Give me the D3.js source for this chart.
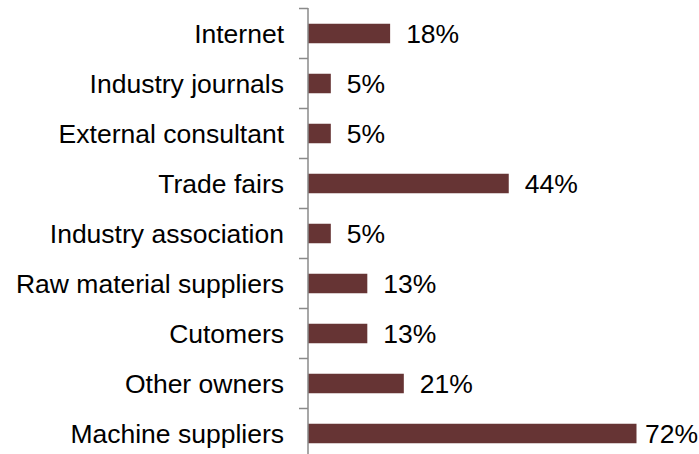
<!DOCTYPE html>
<html>
<head>
<meta charset="utf-8">
<script src="https://cdn.jsdelivr.net/npm/d3@7"></script>
<style>
  html, body { margin: 0; padding: 0; background: #fff; }
  svg { display: block; }
  text { font-family: "Liberation Sans", Arial, sans-serif; fill: #000; }
</style>
</head>
<body>
<div id="chart"></div>
<script>
// Information sources (share of respondents, %)
const categories = [
  "Internet",
  "Industry journals",
  "External consultant",
  "Trade fairs",
  "Industry association",
  "Raw material suppliers",
  "Cutomers",
  "Other owners",
  "Machine suppliers"
];
const values = [18, 5, 5, 44, 5, 13, 13, 21, 72];
const valueLabels = values.map(v => v + "%");

const width = 699, height = 454;
const axisX = 308;
const fontSize = 26.5;

const svg = d3.select("#chart").append("svg")
  .attr("width", width)
  .attr("height", height);

const x = d3.scaleLinear()
  .domain([0, 80])
  .range([axisX, axisX + 365]);

const y = d3.scaleBand()
  .domain(categories)
  .range([8.5, 458.5])
  .paddingInner(0.61)
  .paddingOuter(0.305);

// bars
svg.append("g")
  .selectAll("rect")
  .data(values)
  .join("rect")
  .attr("x", x(0))
  .attr("y", (d, i) => y(categories[i]))
  .attr("width", d => x(d) - x(0))
  .attr("height", y.bandwidth())
  .attr("fill", "#663434");

// category axis: vertical line with ticks on band boundaries
const axis = svg.append("g").attr("stroke", "#8a8a8a").attr("stroke-width", 1.5);
const r = y.range();
axis.append("line")
  .attr("x1", axisX).attr("x2", axisX)
  .attr("y1", r[0] - 0.5).attr("y2", r[1]);
const boundaries = d3.range(categories.length + 1).map(i => r[0] + i * y.step());
axis.selectAll("line.tick")
  .data(boundaries)
  .join("line")
  .attr("class", "tick")
  .attr("x1", axisX - 9).attr("x2", axisX)
  .attr("y1", d => d).attr("y2", d => d);

// category labels
svg.append("g")
  .selectAll("text")
  .data(categories)
  .join("text")
  .attr("x", axisX - 24)
  .attr("y", d => y(d) + y.bandwidth() / 2)
  .attr("dy", "0.36em")
  .attr("text-anchor", "end")
  .attr("font-size", fontSize)
  .text(d => d);

// value labels, kept inside the drawing area
svg.append("g")
  .selectAll("text")
  .data(values)
  .join("text")
  .attr("y", (d, i) => y(categories[i]) + y.bandwidth() / 2)
  .attr("dy", "0.36em")
  .attr("font-size", fontSize)
  .text((d, i) => valueLabels[i])
  .attr("x", function(d) {
    const w = this.getComputedTextLength();
    return Math.min(x(d) + 16, width - w - 1);
  });
</script>
</body>
</html>
